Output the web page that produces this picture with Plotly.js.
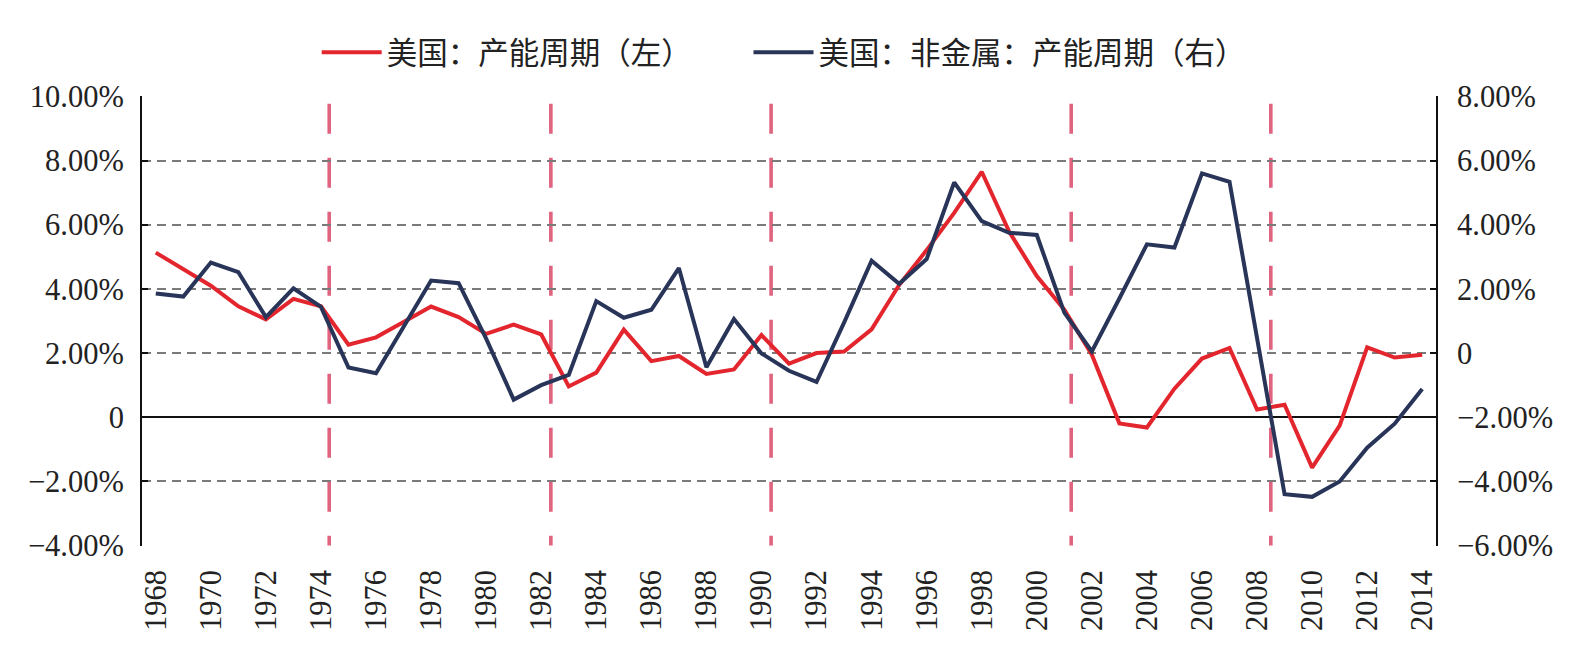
<!DOCTYPE html>
<html>
<head>
<meta charset="utf-8">
<script src="https://cdn.plot.ly/plotly-3.0.1.min.js"></script>
<style>
  html, body { margin: 0; padding: 0; background: #ffffff; }
  #chart { width: 1586px; height: 646px; }
</style>
</head>
<body>
<div id="chart"></div>
<script>
// ---- data ----
const years = [1968, 1969, 1970, 1971, 1972, 1973, 1974, 1975, 1976, 1977,
               1978, 1979, 1980, 1981, 1982, 1983, 1984, 1985, 1986, 1987,
               1988, 1989, 1990, 1991, 1992, 1993, 1994, 1995, 1996, 1997,
               1998, 1999, 2000, 2001, 2002, 2003, 2004, 2005, 2006, 2007,
               2008, 2009, 2010, 2011, 2012, 2013, 2014];

// 美国：产能周期（左），%
const usCapacityCycle = [5.13, 4.60, 4.10, 3.46, 3.05, 3.69, 3.46, 2.26, 2.49, 2.97,
                         3.45, 3.12, 2.60, 2.89, 2.58, 0.96, 1.39, 2.73, 1.75, 1.91,
                         1.35, 1.49, 2.56, 1.67, 2.00, 2.05, 2.74, 4.12, 5.21, 6.37,
                         7.65, 5.78, 4.40, 3.35, 1.95, -0.19, -0.32, 0.89, 1.83, 2.16,
                         0.24, 0.39, -1.57, -0.26, 2.18, 1.86, 1.95];

// 美国：非金属：产能周期（右），%
const usNonMetalCycle = [1.86, 1.76, 2.82, 2.52, 1.12, 2.02, 1.44, -0.45, -0.63, 0.80,
                         2.26, 2.18, 0.45, -1.45, -1.00, -0.68, 1.62, 1.10, 1.35, 2.65,
                         -0.44, 1.06, -0.01, -0.55, -0.90, 0.95, 2.88, 2.16, 2.93, 5.32,
                         4.11, 3.75, 3.68, 1.26, 0.05, 1.70, 3.39, 3.29, 5.60, 5.34,
                         0.45, -4.40, -4.48, -4.00, -2.95, -2.20, -1.12];

const seriesNames = ['美国：产能周期（左）', '美国：非金属：产能周期（右）'];

const leftTickVals  = [10, 8, 6, 4, 2, 0, -2, -4];
const leftTickText  = ['10.00%', '8.00%', '6.00%', '4.00%', '2.00%', '0', '\u22122.00%', '\u22124.00%'];
const rightTickVals = [8, 6, 4, 2, 0, -2, -4, -6];
const rightTickText = ['8.00%', '6.00%', '4.00%', '2.00%', '0', '\u22122.00%', '\u22124.00%', '\u22126.00%'];

const xTickVals = [1968, 1970, 1972, 1974, 1976, 1978, 1980, 1982, 1984, 1986, 1988, 1990,
                   1992, 1994, 1996, 1998, 2000, 2002, 2004, 2006, 2008, 2010, 2012, 2014];
const xTickText = xTickVals.map(String);

// positions of the pink vertical dashed cycle markers (in years)
const cycleMarkers = [1974.3, 1982.35, 1990.35, 2001.25, 2008.5];

// ---- styling ----
const RED = '#e3262e';
const NAVY = '#283458';
const PINK = '#e0637f';
const GRID = '#7a7a7a';
const SERIF = '"Liberation Serif", "Times New Roman", serif';
const CJK = '"Noto Sans CJK SC", "Noto Sans", sans-serif';

const traces = [
  {
    type: 'scatter', mode: 'lines', name: seriesNames[0],
    x: years, y: usCapacityCycle, yaxis: 'y',
    line: { color: RED, width: 4 },
    legend: 'legend',
    hovertemplate: '%{x}: %{y:.2f}%<extra></extra>'
  },
  {
    type: 'scatter', mode: 'lines', name: seriesNames[1],
    x: years, y: usNonMetalCycle, yaxis: 'y2',
    line: { color: NAVY, width: 4 },
    legend: 'legend2',
    hovertemplate: '%{x}: %{y:.2f}%<extra></extra>'
  }
];

const shapes = cycleMarkers.map(function (yr) {
  return {
    type: 'line', xref: 'x', yref: 'y',
    x0: yr, x1: yr, y0: 9.77, y1: -4,
    line: { color: PINK, width: 3.6, dash: '30px,24px' },
    layer: 'below'
  };
});

function legendStyle(xPos) {
  return {
    orientation: 'h',
    x: xPos, xanchor: 'left',
    y: 1.097, yanchor: 'middle',
    font: { family: CJK, size: 30.5, color: '#222222' },
    itemwidth: 60,
    bgcolor: 'rgba(0,0,0,0)', borderwidth: 0
  };
}

const layout = {
  width: 1586, height: 646,
  margin: { l: 142, r: 150, t: 96, b: 100, pad: 0 },
  paper_bgcolor: '#ffffff', plot_bgcolor: '#ffffff',
  showlegend: true,
  legend: legendStyle(0.135),
  legend2: legendStyle(0.4687),
  xaxis: {
    type: 'linear',
    range: [1967.5, 2014.5],
    tickmode: 'array', tickvals: xTickVals, ticktext: xTickText,
    tickangle: -90,
    tickfont: { family: SERIF, size: 30.5, color: '#222222' },
    ticks: '', showline: false, showgrid: false, zeroline: false,
    ticklabelstandoff: 17,
    fixedrange: true
  },
  yaxis: {
    range: [-4.012, 10.012],
    tickmode: 'array', tickvals: leftTickVals, ticktext: leftTickText,
    tickfont: { family: SERIF, size: 30.5, color: '#222222' },
    showline: true, linecolor: '#111111', linewidth: 2,
    ticks: 'inside', ticklen: 6, tickwidth: 2, tickcolor: '#111111',
    showgrid: true, gridcolor: GRID, gridwidth: 1.5, griddash: '9px,6px',
    zeroline: true, zerolinecolor: '#111111', zerolinewidth: 2,
    ticklabelstandoff: 10,
    fixedrange: true
  },
  yaxis2: {
    overlaying: 'y', side: 'right',
    range: [-6.012, 8.012],
    tickmode: 'array', tickvals: rightTickVals, ticktext: rightTickText,
    tickfont: { family: SERIF, size: 30.5, color: '#222222' },
    showline: true, linecolor: '#111111', linewidth: 2,
    ticks: 'inside', ticklen: 6, tickwidth: 2, tickcolor: '#111111',
    showgrid: false, zeroline: false,
    ticklabelstandoff: 13,
    fixedrange: true
  },
  shapes: shapes
};

Plotly.newPlot('chart', traces, layout, { displayModeBar: false, staticPlot: false });
</script>
</body>
</html>
